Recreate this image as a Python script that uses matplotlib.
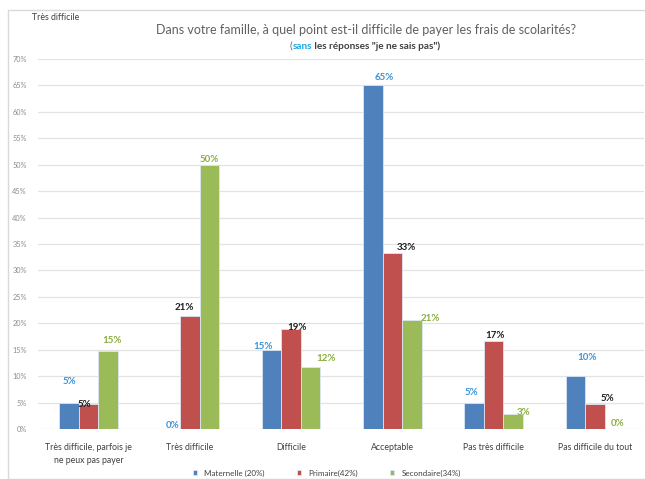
import matplotlib.pyplot as plt
from matplotlib.patches import Rectangle
from matplotlib.offsetbox import TextArea, HPacker, AnchoredOffsetbox
from matplotlib.ticker import PercentFormatter

plt.rcParams['font.family'] = ['Lato', 'DejaVu Sans']

categories = ['Très difficile, parfois je\nne peux pas payer', 'Très difficile', 'Difficile',
              'Acceptable', 'Pas très difficile', 'Pas difficile du tout']
series_names = ['Maternelle (20%)', 'Primaire(42%)', 'Secondaire(34%)']
maternelle = [5.0, 0.0, 15.0, 65.0, 5.0, 10.0]
primaire = [4.8, 21.4, 19.0, 33.3, 16.7, 4.8]
secondaire = [14.7, 50.0, 11.8, 20.6, 2.9, 0.0]
yticks = list(range(0, 75, 5))

bar_colors = ['#4f81bd', '#c0504d', '#9bbb59']
label_colors = ['#3a93d8', '#1f1f1f', '#8aae42']
# décalage des étiquettes (pixels) par rapport au haut de chaque barre
label_shift = [
    [(1, 21), (2, 3), (-8, 3), (11, 8), (-3, 10), (12, 19)],
    [(-4, -1), (-5, 8), (6, 1), (14, 5), (1, 5), (13, 5)],
    [(4, 11), (0, 5), (15, 8), (18, 2), (10, 1), (3, 5)],
]

fig = plt.figure(figsize=(6.45, 4.79), dpi=100)
fig.patches.append(Rectangle((8 / 645, 0), 1, 1 - 10 / 479, transform=fig.transFigure,
                             fill=False, edgecolor='#d9d9d9', linewidth=1.0))

ax = fig.add_axes([37.8 / 645, 50 / 479, 605.7 / 645, 370 / 479])
width = 0.193
x = range(len(categories))
for i, vals in enumerate([maternelle, primaire, secondaire]):
    pos = [k + (i - 1) * width for k in x]
    bars = ax.bar(pos, vals, width, color=bar_colors[i], edgecolor='#dce6f2',
                  linewidth=0.6, label=series_names[i], zorder=3)
    for j, b in enumerate(bars):
        dx, dy = label_shift[i][j]
        ax.annotate('%d%%' % round(vals[j]), (b.get_x() + b.get_width() / 2, b.get_height()),
                    xytext=(dx, dy), textcoords='offset pixels', ha='center', va='center',
                    fontsize=7, fontweight='bold', color=label_colors[i], zorder=4)

ax.set_xlim(-0.5, 5.48)
ax.set_ylim(0, 70)
ax.set_yticks(yticks)
ax.yaxis.set_major_formatter(PercentFormatter(decimals=0))
ax.set_xticks(list(x))
ax.set_xticklabels(categories, fontsize=6.3, color='#404040', linespacing=1.6)
ax.tick_params(axis='y', labelsize=5.3, labelcolor='#8c8c8c', length=0, pad=8)
ax.tick_params(axis='x', length=0, pad=10)
ax.grid(axis='y', color='#e3e3e3', linewidth=0.9, zorder=0)
for s in ax.spines.values():
    s.set_visible(False)

fig.text(32 / 645, 1 - 18 / 479, 'Très difficile', fontsize=6.3, color='#404040', va='center')
fig.text(366 / 645, 1 - 30 / 479, 'Dans votre famille, à quel point est-il difficile de payer les frais de scolarités?',
         fontsize=9.0, color='#606060', ha='center', va='center')

sub = HPacker(children=[
    TextArea('(', textprops=dict(fontsize=7.2, color='#595959')),
    TextArea('sans', textprops=dict(fontsize=7.2, color='#1ea7e6', fontweight='bold')),
    TextArea(' les réponses "je ne sais pas")', textprops=dict(fontsize=7.2, color='#404040', fontweight='bold')),
], pad=0, sep=0, align='baseline')
fig.add_artist(AnchoredOffsetbox(loc='center', child=sub, frameon=False, pad=0,
                                 bbox_to_anchor=(365 / 645, 1 - 46 / 479),
                                 bbox_transform=fig.transFigure))

fig.legend(loc='center', bbox_to_anchor=(327 / 645, 1 - 473 / 479), ncol=3, frameon=False,
           fontsize=5.8, handlelength=0.5, handleheight=0.5, handletextpad=0.9,
           columnspacing=4.0, labelcolor='#404040')

fig.savefig('out.png', dpi=100)
